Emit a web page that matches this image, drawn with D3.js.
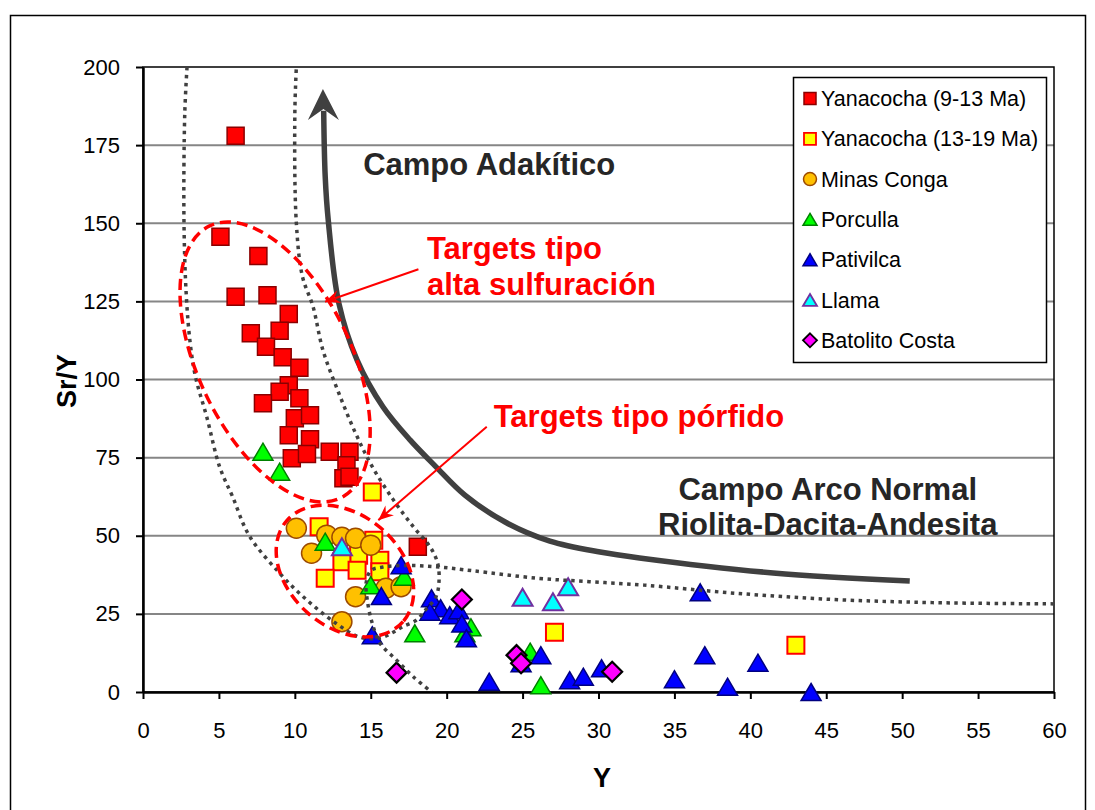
<!DOCTYPE html>
<html>
<head>
<meta charset="utf-8">
<script src="https://cdn.jsdelivr.net/npm/d3@7"></script>
<style>
body { margin: 0; background: #fff; }
svg text { font-family: "Liberation Sans", Arial, sans-serif; }
</style>
</head>
<body>
<script>
// [Y (ppm), Sr/Y]
var yanacocha913 = [[6.1,178],[5.1,145.7],[7.6,139.5],[6.1,126.5],[8.2,127],[9.6,121],[7.1,114.8],[9.0,115.6],
    [8.1,110.5],[9.2,107.1],[10.3,103.8],[9.6,98.2],[9.0,96.1],[7.9,92.4],[10.3,94],[10.0,87.6],[11.0,88.6],
    [9.6,82.2],[11.0,80.9],[9.8,74.8],[10.8,76.2],[12.3,76.9],[13.6,76.9],[13.4,72.6],[13.2,68.4],[13.6,68.9],[18.1,46.5]];
var yanacocha1319 = [[15.1,64],[11.6,52.9],[15.2,48.6],[14.2,43.8],[15.6,42.2],[13.1,41.7],[12.0,36.4],[14.1,39.0],
    [15.6,38.5],[27.1,19.1],[43.0,15.0]];
var minasConga = [[10.1,52.4],[12.1,50.2],[13.1,49.5],[14.0,49.2],[15.0,47.0],[11.1,44.4],[16.0,33.2],[17.0,33.7],
    [14.0,30.5],[13.1,22.5]];
var porculla = [[7.9,76.9],[9.0,70.5],[12.0,48.1],[15.0,34.2],[17.2,36.9],[17.9,18.8],[21.6,20.7],[21.2,18.8],
    [25.5,12.9],[26.2,2.2]];
var pativilca = [[17.0,40.6],[15.7,30.7],[15.1,18.2],[19.0,30.0],[19.6,26.8],[18.9,25.7],[20.2,24.6],[20.8,26.2],
    [21.0,21.9],[21.3,17.2],[22.8,3.3],[24.9,9.2],[26.2,11.8],[28.1,3.8],[29.0,4.9],[30.2,7.6],[36.7,31.9],
    [37.0,11.8],[35.0,4.1],[38.5,1.7],[40.5,9.4],[44.0,0]];
var llama = [[13.1,46.5],[25.0,30.3],[27.0,28.9],[28.0,33.7]];
var batolito = [[21.0,29.6],[16.7,6.2],[24.6,11.8],[24.9,9.2],[30.9,6.5]];

var legendLabels = ["Yanacocha (9-13 Ma)", "Yanacocha (13-19 Ma)", "Minas Conga", "Porculla", "Pativilca", "Llama", "Batolito Costa"];
var xTicks = [0,5,10,15,20,25,30,35,40,45,50,55,60];
var yTicks = [0,25,50,75,100,125,150,175,200];

// field boundaries (dotted) and trend arrow
var adakiteField = [[2.9,200],[2.75,185],[2.7,150],[2.85,127],[3.1,112],[3.45,101],[4.2,88],[5.05,72],[5.9,62.5],
    [7.0,50],[9.0,38],[10.8,29.4],[12.7,22],[14.3,17.5],[15.6,17.3],[16.4,18.9],[17.1,20.9],[18.0,23],[18.6,26.2],
    [19.3,30.5],[19.5,35.8],[19.4,41.3],[18.9,46.5],[17.8,52.9],[16.5,61.4],[15.1,72.1],[14.0,82.8],[12.9,95.6],
    [11.85,109.4],[11.2,123.3],[10.5,133],[10.1,150],[10.0,185],[10.1,200]];
var normalField = [[60,28.2],[52,28.6],[45.5,29.6],[39,31.6],[33,34.2],[29.4,35.3],[26,36.4],[21.7,38.8],[19.5,40],
    [17.5,40.5],[15.8,40],[15,38.8],[14.7,35],[14.8,28.5],[15.1,22],[15.6,15.7],[16.7,10.2],[17.8,4.9],[19,0]];
var trendArrow = [[50.5,35.5],[41.5,38.1],[32.7,42.9],[30.1,44.8],[26.8,48.3],[23.85,54.4],[21.2,63.0],[19.25,72.3],
    [17.6,80.6],[15.8,91.3],[14.1,106.2],[12.9,124.4],[12.2,151],[12.0,165],[11.9,186]];
var trendTip = [11.85,193];

var W = 1095, H = 810;
var plotL = 143, plotR = 1054, plotT = 67, plotB = 692;

var svg = d3.select("body").append("svg")
    .attr("width", W)
    .attr("height", H);

svg.append("rect")
    .attr("x", 10.5).attr("y", 15.5)
    .attr("width", 1075).attr("height", 800)
    .attr("fill", "#fff").attr("stroke", "#000").attr("stroke-width", 1.5);

var x = d3.scaleLinear().domain([0, 60]).range([plotL, plotR]);
var y = d3.scaleLinear().domain([0, 200]).range([plotB, plotT]);

// gridlines
svg.append("g").selectAll("line")
    .data(yTicks.filter(function (d) { return d > 0 && d < 200; }))
    .enter().append("line")
    .attr("x1", plotL).attr("x2", plotR)
    .attr("y1", function (d) { return y(d); })
    .attr("y2", function (d) { return y(d); })
    .attr("stroke", "#868686").attr("stroke-width", 2);

svg.append("rect")
    .attr("x", plotL).attr("y", plotT)
    .attr("width", plotR - plotL).attr("height", plotB - plotT)
    .attr("fill", "none").attr("stroke", "#000").attr("stroke-width", 1.5);

var yAxis = svg.append("g")
    .attr("transform", "translate(" + plotL + ",0)")
    .call(d3.axisLeft(y).tickValues(yTicks).tickSize(7).tickSizeOuter(0).tickPadding(16));
var xAxis = svg.append("g")
    .attr("transform", "translate(0," + plotB + ")")
    .call(d3.axisBottom(x).tickValues(xTicks).tickSize(7).tickSizeOuter(0).tickPadding(23));
[xAxis, yAxis].forEach(function (g) {
    g.attr("font-size", 22).attr("font-family", "'Liberation Sans', Arial, sans-serif");
    g.select(".domain").attr("stroke", "#000").attr("stroke-width", 2.5);
    g.selectAll(".tick line").attr("stroke", "#000").attr("stroke-width", 2);
    g.selectAll(".tick text").attr("fill", "#000");
});

svg.append("text")
    .attr("x", 602).attr("y", 787)
    .attr("text-anchor", "middle")
    .attr("font-size", 27).attr("font-weight", "bold")
    .text("Y");
svg.append("text")
    .attr("transform", "translate(76,381) rotate(-90)")
    .attr("text-anchor", "middle")
    .attr("font-size", 27).attr("font-weight", "bold")
    .text("Sr/Y");

// marker shapes
function shape(type, s) {
    var h = s / 2;
    if (type === "square") return "M" + (-h) + "," + (-h) + "h" + s + "v" + s + "h" + (-s) + "Z";
    if (type === "circle") return "M" + h + ",0A" + h + "," + h + " 0 1,1 " + (-h) + ",0A" + h + "," + h + " 0 1,1 " + h + ",0Z";
    if (type === "triangle") {
        var th = s * 0.85;
        return "M0," + (-th / 2) + "L" + h + "," + (th / 2) + "L" + (-h) + "," + (th / 2) + "Z";
    }
    if (type === "diamond") return "M0," + (-h) + "L" + h + ",0L0," + h + "L" + (-h) + ",0Z";
}

var series = [
    {data: yanacocha913, type: "square", size: 17, fill: "#FF0000", stroke: "#8B0000", sw: 1.5},
    {data: yanacocha1319, type: "square", size: 17, fill: "#FFFF00", stroke: "#FF0000", sw: 2},
    {data: minasConga, type: "circle", size: 20, fill: "#FFC000", stroke: "#9C4A00", sw: 1.5},
    {data: porculla, type: "triangle", size: 20, fill: "#00FF00", stroke: "#008000", sw: 1.5},
    {data: pativilca, type: "triangle", size: 20, fill: "#0000FF", stroke: "#000080", sw: 1.5},
    {data: llama, type: "triangle", size: 20, fill: "#00FFFF", stroke: "#7030A0", sw: 2},
    {data: batolito, type: "diamond", size: 20, fill: "#FF00FF", stroke: "#000000", sw: 2.2}
];

series.forEach(function (s) {
    svg.append("g").selectAll("path")
        .data(s.data)
        .enter().append("path")
        .attr("d", shape(s.type, s.size))
        .attr("transform", function (d) { return "translate(" + x(d[0]) + "," + y(d[1]) + ")"; })
        .attr("fill", s.fill)
        .attr("stroke", s.stroke)
        .attr("stroke-width", s.sw);
});

// dotted field boundaries
var line = d3.line()
    .x(function (d) { return x(d[0]); })
    .y(function (d) { return y(d[1]); })
    .curve(d3.curveCatmullRom.alpha(0.5));

[adakiteField, normalField].forEach(function (f) {
    svg.append("path")
        .attr("d", line(f))
        .attr("fill", "none")
        .attr("stroke", "#404040")
        .attr("stroke-width", 3.5)
        .attr("stroke-dasharray", "3.5 4.5");
});

// trend arrow
svg.append("path")
    .attr("d", line(trendArrow))
    .attr("fill", "none")
    .attr("stroke", "#404040")
    .attr("stroke-width", 5.5);
var tx = x(trendTip[0]), ty = y(trendTip[1]);
svg.append("path")
    .attr("d", "M" + tx + "," + ty + "L" + (tx + 16) + "," + (ty + 31) + "L" + (tx + 0.5) + "," + (ty + 20) +
        "L" + (tx - 15) + "," + (ty + 31) + "Z")
    .attr("fill", "#404040");

// red dashed ellipses
var ellipses = [
    {cx: 8.70, cy: 105.6, rx: 76.5, ry: 151, rot: -25.7},
    {cx: 13.3, cy: 38.7, rx: 77, ry: 56, rot: 41}
];
ellipses.forEach(function (e) {
    svg.append("ellipse")
        .attr("transform", "translate(" + x(e.cx) + "," + y(e.cy) + ") rotate(" + e.rot + ")")
        .attr("rx", e.rx).attr("ry", e.ry)
        .attr("fill", "none")
        .attr("stroke", "#FF0000")
        .attr("stroke-width", 3.5)
        .attr("stroke-dasharray", "11 6");
});

// red pointer arrows
svg.append("defs").append("marker")
    .attr("id", "redhead")
    .attr("viewBox", "-16 -8 18 16")
    .attr("markerUnits", "userSpaceOnUse")
    .attr("markerWidth", 18).attr("markerHeight", 16)
    .attr("refX", 0).attr("refY", 0)
    .attr("orient", "auto")
    .append("path")
    .attr("d", "M0,0L-15,-6.5L-10,0L-15,6.5Z")
    .attr("fill", "#FF0000");

var pointers = [
    [[18.14,135.3],[11.99,124.9]],
    [[22.64,84.9],[15.5,55]]
];
pointers.forEach(function (p) {
    svg.append("line")
        .attr("x1", x(p[0][0])).attr("y1", y(p[0][1]))
        .attr("x2", x(p[1][0])).attr("y2", y(p[1][1]))
        .attr("stroke", "#FF0000")
        .attr("stroke-width", 2)
        .attr("marker-end", "url(#redhead)");
});

// annotations
var notes = [
    {t: "Campo Adakítico", x: 14.5, y: 165.4, c: "#262626", a: "start"},
    {t: "Targets tipo", x: 18.7, y: 138.5, c: "#FF0000", a: "start"},
    {t: "alta sulfuración", x: 18.7, y: 127, c: "#FF0000", a: "start"},
    {t: "Targets tipo pórfido", x: 23.1, y: 84.9, c: "#FF0000", a: "start"},
    {t: "Campo Arco Normal", x: 45.1, y: 61.4, c: "#262626", a: "middle"},
    {t: "Riolita-Dacita-Andesita", x: 45.1, y: 50.2, c: "#262626", a: "middle"}
];
svg.append("g").selectAll("text")
    .data(notes)
    .enter().append("text")
    .attr("x", function (d) { return x(d.x); })
    .attr("y", function (d) { return y(d.y); })
    .attr("text-anchor", function (d) { return d.a; })
    .attr("fill", function (d) { return d.c; })
    .attr("font-size", 31)
    .attr("font-weight", "bold")
    .text(function (d) { return d.t; });

// legend
var lg = svg.append("g");
lg.append("rect")
    .attr("x", 793.5).attr("y", 77.5)
    .attr("width", 253).attr("height", 285)
    .attr("fill", "#fff").attr("stroke", "#000").attr("stroke-width", 1.5);
var rows = lg.selectAll("g.row")
    .data(series)
    .enter().append("g")
    .attr("class", "row")
    .attr("transform", function (d, i) { return "translate(810," + (98.5 + i * 40.3) + ")"; });
rows.append("path")
    .attr("d", function (d) { return shape(d.type, d.type === "circle" ? 13 : (d.type === "square" ? 12 : 14)); })
    .attr("fill", function (d) { return d.fill; })
    .attr("stroke", function (d) { return d.stroke; })
    .attr("stroke-width", function (d) { return Math.min(d.sw, 1.8); });
rows.append("text")
    .attr("x", 11)
    .attr("y", 7.5)
    .attr("font-size", 21.5)
    .attr("fill", "#000")
    .text(function (d, i) { return legendLabels[i]; });
</script>
</body>
</html>
